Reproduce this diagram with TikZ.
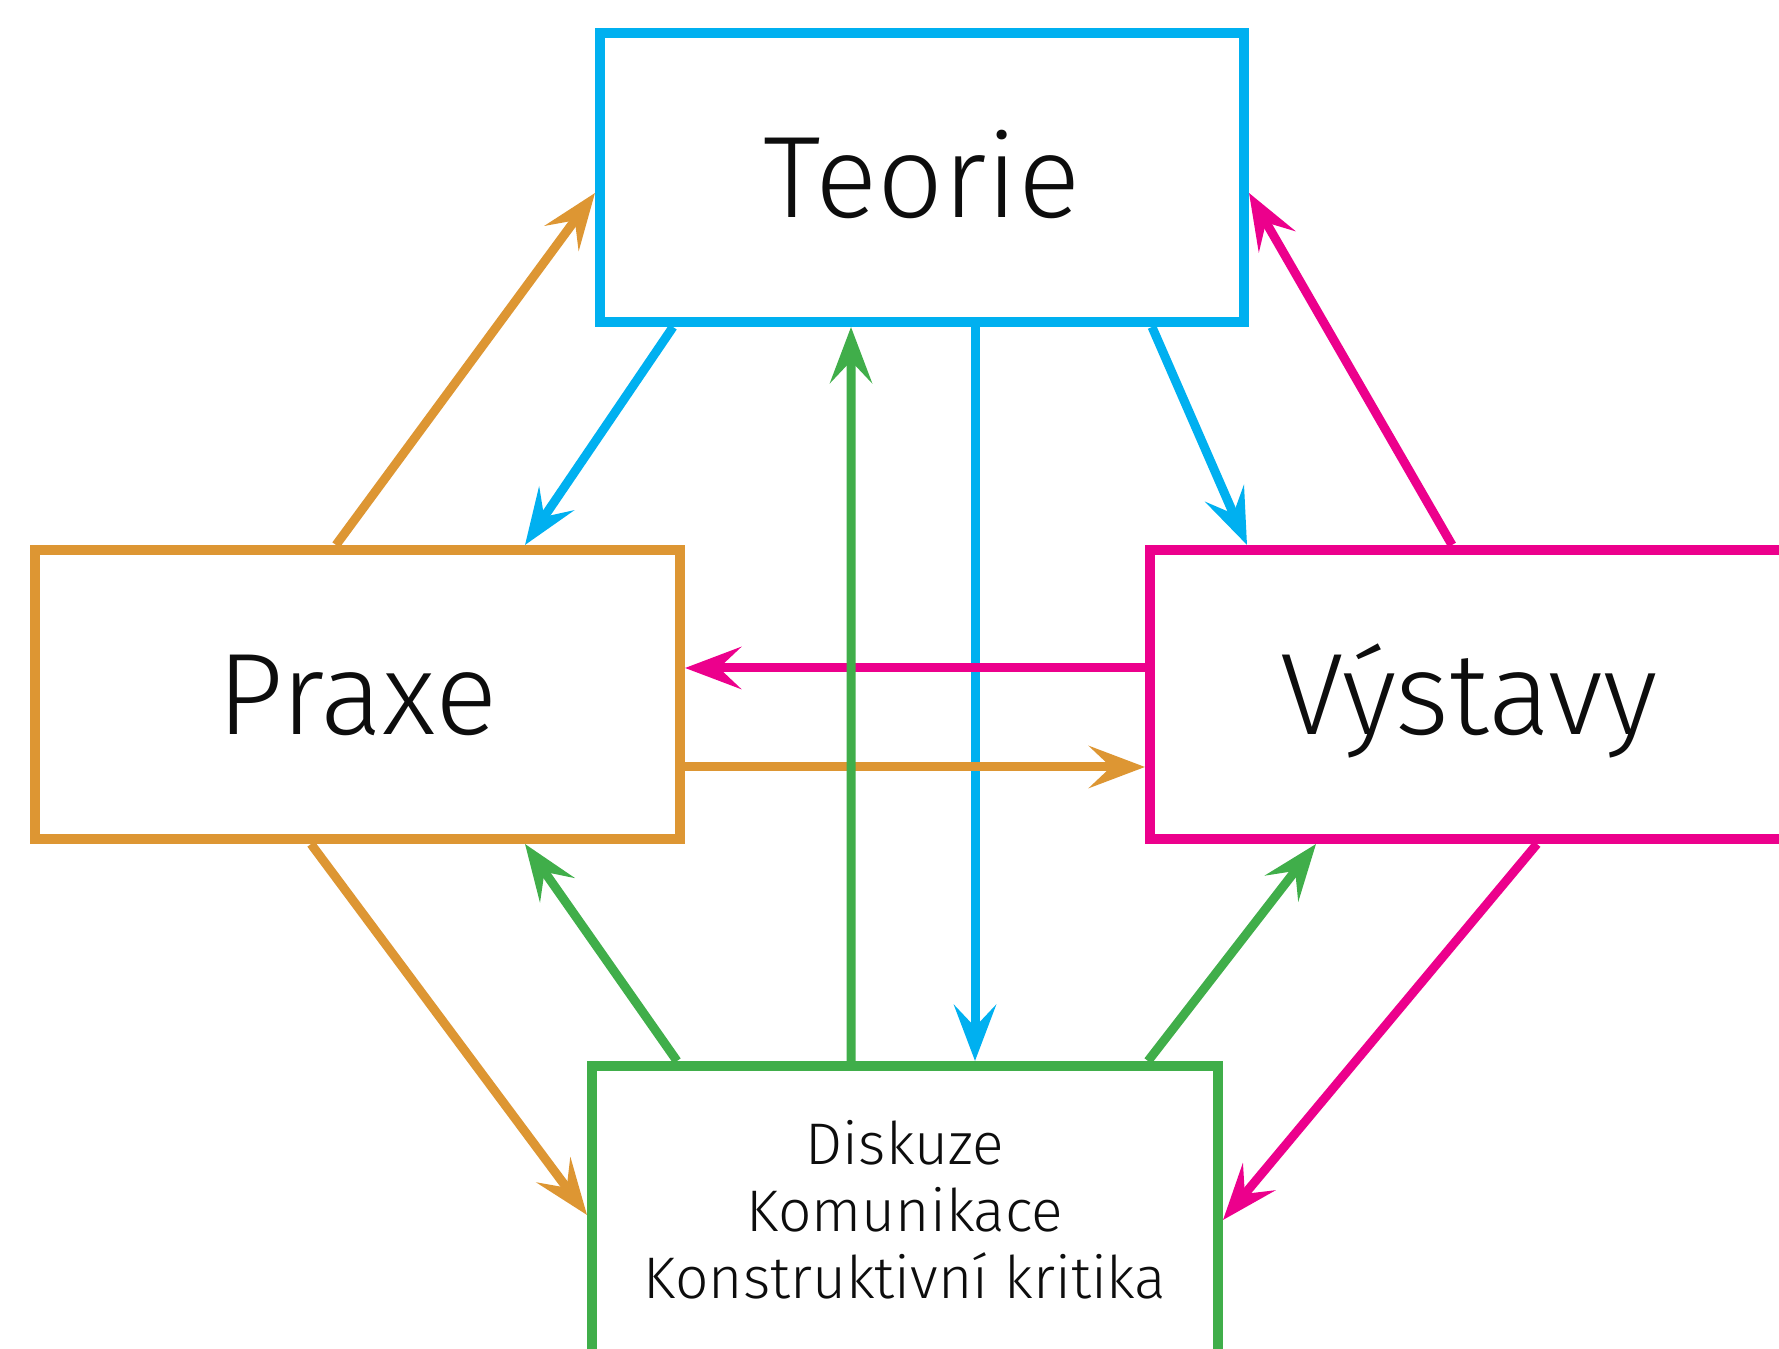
\documentclass[tikz,border=0pt]{standalone}
\usepackage{fontspec}
\setmainfont{Fira Sans Light}
\usetikzlibrary{positioning,arrows.meta}

\definecolor{modra}{HTML}{00B0F0}
\definecolor{oranz}{HTML}{DD9633}
\definecolor{ruzova}{HTML}{EC008C}
\definecolor{zelena}{HTML}{40AE4A}

\tikzset{
  box/.style={draw,line width=1mm,rectangle,fill=white,inner sep=0pt,text=black!95},
  bigbox/.style={box,font=\fontsize{33}{36}\selectfont,text height=0.8cm,text depth=0cm},
  arr/.style={line width=0.9mm,-{Stealth[length=5.6mm,width=4.2mm,inset=2.2mm]}}
}

\begin{document}
\begin{tikzpicture}

\useasboundingbox(0,0)rectangle(17.79,13.49);
\clip(0,0)rectangle(17.79,13.49);

\node[bigbox,draw=modra,minimum width=6.44cm,minimum height=2.89cm](T) at (9.22,11.715) {Teorie};
\node[bigbox,draw=oranz,minimum width=6.45cm,minimum height=2.89cm](P) at (3.575,6.545) {Praxe};
\node[bigbox,draw=ruzova,minimum width=6.38cm,minimum height=2.89cm](V) at (14.69,6.545) {V\'ystavy};
\node[box,draw=zelena,minimum width=6.26cm,minimum height=2.88cm,
  align=center,font=\fontsize{16.7}{19.1}\selectfont](D) at (9.05,1.39)
  {Diskuze\\Komunikace\\Konstruktivn\'i kritika};

% Teorie
\draw[arr,modra]([xshift=-2.49cm]T.south)--([xshift=1.675cm]P.north);
\draw[arr,modra]([xshift=0.53cm]T.south)--([xshift=0.70cm]D.north);
\draw[arr,modra]([xshift=2.30cm]T.south)--([xshift=-2.22cm]V.north);

% Praxe
\draw[arr,oranz]([xshift=-0.215cm]P.north)--([yshift=-0.155cm]T.west);
\draw[arr,oranz]([yshift=-0.725cm]P.east)--([yshift=-0.725cm]V.west);
\draw[arr,oranz]([xshift=-0.465cm]P.south)--([yshift=-0.05cm]D.west);

% Vystavy
\draw[arr,ruzova]([xshift=-0.17cm]V.north)--([yshift=-0.155cm]T.east);
\draw[arr,ruzova]([yshift=0.265cm]V.west)--([yshift=0.265cm]P.east);
\draw[arr,ruzova]([xshift=0.68cm]V.south)--([yshift=-0.10cm]D.east);

% Diskuze
\draw[arr,zelena]([xshift=-0.54cm]D.north)--([xshift=-0.71cm]T.south);
\draw[arr,zelena]([xshift=-2.28cm]D.north)--([xshift=1.675cm]P.south);
\draw[arr,zelena]([xshift=2.43cm]D.north)--([xshift=-1.53cm]V.south);

\end{tikzpicture}
\end{document}
